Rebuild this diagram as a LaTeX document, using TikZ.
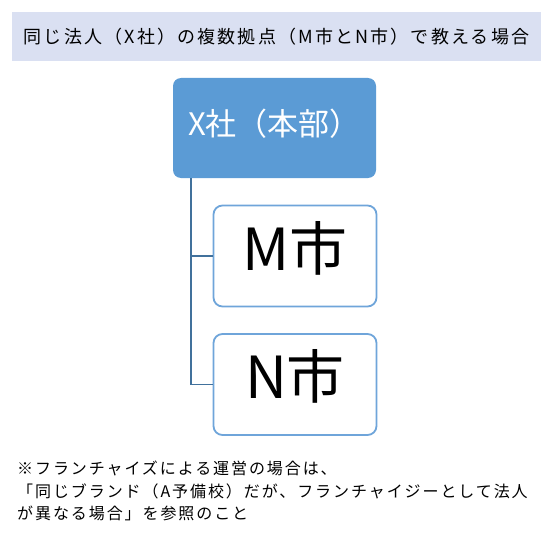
\documentclass[tikz,border=0pt]{standalone}
\usepackage{fontspec}
\newfontfamily\jpfont{Noto Sans CJK JP}
\newfontfamily\jpwide[LetterSpace=12]{Noto Sans CJK JP}
\definecolor{bandblue}{HTML}{DAE0F2}
\definecolor{hqblue}{HTML}{5B9BD5}
\definecolor{lineblue}{HTML}{41719C}
\definecolor{boxblue}{HTML}{6FA5DA}

\begin{document}
\begin{tikzpicture}[x=1pt,y=-1pt,
    city/.style={draw=boxblue, line width=1.8pt, fill=white, rounded corners=9pt,
        minimum width=163pt, minimum height=101pt, inner sep=0pt,
        font=\jpfont\fontsize{58}{64}\selectfont, text height=48pt, text depth=20pt},
    link/.style={draw=lineblue, line width=1.8pt}]

\useasboundingbox (0,0) rectangle (557,543);

% title band
\node[fill=bandblue, minimum width=529pt, minimum height=49pt, inner sep=0pt,
    font=\jpwide\fontsize{18}{20}\selectfont] (title) at (276.5,36.5)
    {同じ法人（X社）の複数拠点（M市とN市）で教える場合};

% head office and the two sites
\node[fill=hqblue, rounded corners=8pt, minimum width=203pt, minimum height=100pt,
    inner sep=0pt, text=white, font=\jpfont\fontsize{31}{34}\selectfont,
    text height=24pt, text depth=8.4pt] (hq) at (274.5,128) {X社（本部）};
\node[city] (m) at (295,256) {M市};
\node[city] (n) at (295,384.5) {N市};

\draw[link] ([xshift=18.5pt]hq.south west) |- (m.west);
\draw[link] ([xshift=18.5pt]hq.south west) |- (n.west);

% note
\node[anchor=north west, align=left, inner sep=0pt,
    font=\jpwide\fontsize{16}{22.5}\selectfont] (note) at (17,461)
    {※フランチャイズによる運営の場合は、\\
     「同じブランド（A予備校）だが、フランチャイジーとして法人\\
     が異なる場合」を参照のこと};

\end{tikzpicture}
\end{document}
